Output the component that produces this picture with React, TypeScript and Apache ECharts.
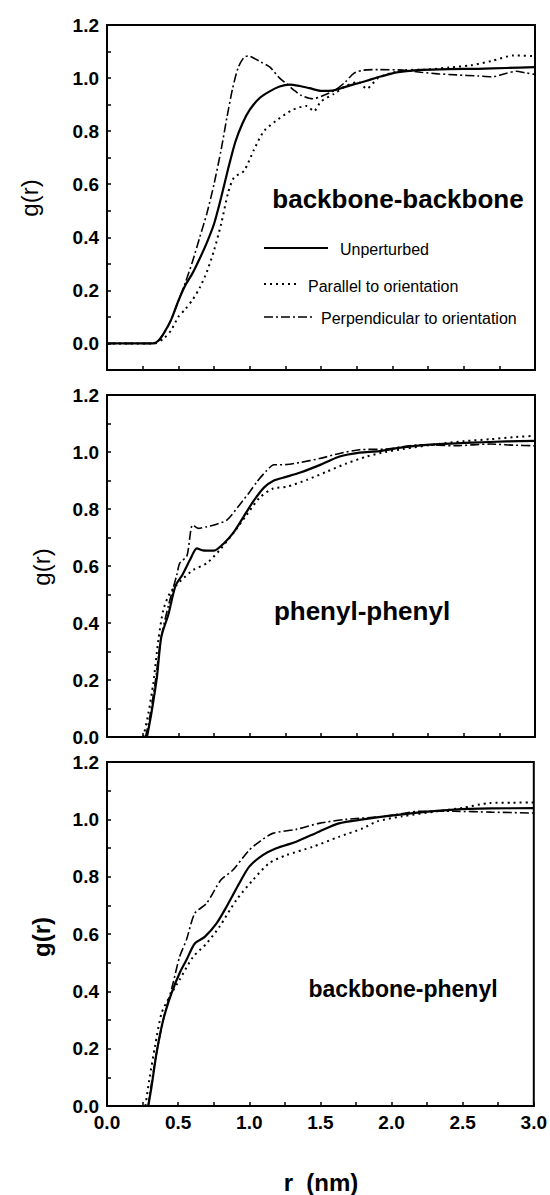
import React, { useEffect, useRef } from 'react';
import * as echarts from 'echarts';

// ---------- data: [r (nm), g(r)] ----------
// Panel 1: backbone-backbone
const bbUnperturbed = [[0,0],[0.32,0],[0.36,0.01],[0.40,0.04],[0.45,0.09],[0.50,0.16],[0.55,0.22],[0.60,0.265],[0.65,0.32],[0.70,0.38],[0.75,0.45],[0.80,0.55],[0.85,0.66],[0.90,0.76],[0.95,0.83],[1.0,0.88],[1.07,0.925],[1.14,0.95],[1.21,0.968],[1.28,0.975],[1.35,0.97],[1.42,0.962],[1.50,0.952],[1.58,0.953],[1.66,0.965],[1.74,0.978],[1.82,0.99],[1.91,1.005],[2.0,1.018],[2.1,1.026],[2.2,1.031],[2.4,1.034],[2.6,1.035],[2.8,1.038],[3.0,1.041]];
const bbParallel = [[0,0],[0.33,0],[0.40,0.02],[0.45,0.05],[0.50,0.1],[0.55,0.13],[0.60,0.165],[0.65,0.21],[0.70,0.27],[0.75,0.35],[0.80,0.45],[0.85,0.57],[0.89,0.625],[0.96,0.65],[1.03,0.73],[1.10,0.80],[1.20,0.845],[1.30,0.88],[1.40,0.895],[1.45,0.875],[1.50,0.912],[1.59,0.94],[1.68,0.972],[1.76,0.985],[1.82,0.96],[1.90,1.0],[2.0,1.02],[2.1,1.03],[2.25,1.032],[2.4,1.04],[2.55,1.048],[2.7,1.065],[2.85,1.085],[3.0,1.083]];
const bbPerpendicular = [[0,0],[0.33,0],[0.40,0.04],[0.45,0.09],[0.50,0.16],[0.55,0.23],[0.60,0.31],[0.65,0.40],[0.70,0.49],[0.75,0.60],[0.80,0.73],[0.84,0.85],[0.88,0.96],[0.92,1.04],[0.96,1.078],[0.99,1.083],[1.03,1.075],[1.08,1.06],[1.14,1.042],[1.21,1.0],[1.26,0.978],[1.31,0.955],[1.36,0.935],[1.44,0.922],[1.52,0.935],[1.60,0.955],[1.67,0.985],[1.73,1.018],[1.8,1.03],[1.9,1.032],[2.07,1.03],[2.2,1.022],[2.32,1.016],[2.45,1.012],[2.6,1.008],[2.7,1.005],[2.8,1.018],[2.87,1.026],[2.93,1.02],[3.0,1.014]];

// Panel 2: phenyl-phenyl
const ppUnperturbed = [[0.28,0],[0.31,0.08],[0.35,0.21],[0.38,0.35],[0.43,0.43],[0.48,0.53],[0.53,0.57],[0.58,0.62],[0.63,0.662],[0.67,0.655],[0.75,0.654],[0.82,0.68],[0.89,0.72],[0.96,0.775],[1.03,0.83],[1.10,0.875],[1.17,0.9],[1.25,0.912],[1.35,0.927],[1.49,0.954],[1.63,0.984],[1.77,0.998],[1.91,1.003],[2.07,1.016],[2.24,1.025],[2.56,1.033],[2.8,1.037],[3.0,1.039]];
const ppParallel = [[0.255,0],[0.29,0.083],[0.325,0.19],[0.36,0.34],[0.395,0.446],[0.44,0.504],[0.51,0.545],[0.605,0.586],[0.70,0.61],[0.79,0.656],[0.885,0.715],[0.98,0.78],[1.07,0.84],[1.165,0.872],[1.26,0.878],[1.40,0.902],[1.54,0.931],[1.68,0.96],[1.82,0.984],[1.95,1.0],[2.07,1.01],[2.32,1.028],[2.5,1.038],[2.69,1.045],[2.85,1.052],[3.0,1.057]];
const ppPerpendicular = [[0.27,0],[0.30,0.07],[0.34,0.20],[0.38,0.35],[0.43,0.46],[0.49,0.57],[0.51,0.61],[0.56,0.635],[0.60,0.744],[0.64,0.732],[0.70,0.738],[0.75,0.744],[0.84,0.761],[0.93,0.815],[1.0,0.86],[1.05,0.895],[1.12,0.935],[1.17,0.955],[1.26,0.956],[1.35,0.963],[1.49,0.977],[1.63,0.995],[1.77,1.008],[1.95,1.01],[2.2,1.025],[2.44,1.022],[2.69,1.028],[2.85,1.024],[3.0,1.022]];

// Panel 3: backbone-phenyl
const bpUnperturbed = [[0.29,0],[0.313,0.067],[0.348,0.184],[0.395,0.30],[0.453,0.393],[0.51,0.463],[0.558,0.509],[0.617,0.567],[0.687,0.59],[0.77,0.637],[0.84,0.695],[0.93,0.777],[1.0,0.835],[1.095,0.875],[1.19,0.899],[1.33,0.922],[1.49,0.957],[1.63,0.986],[1.80,1.0],[1.95,1.01],[2.2,1.024],[2.44,1.034],[2.7,1.038],[3.0,1.039]];
const bpParallel = [[0.27,0],[0.30,0.10],[0.337,0.207],[0.383,0.323],[0.44,0.381],[0.51,0.44],[0.605,0.52],[0.70,0.567],[0.79,0.625],[0.91,0.719],[1.025,0.788],[1.14,0.847],[1.26,0.875],[1.445,0.904],[1.63,0.939],[1.80,0.969],[1.90,0.993],[2.07,1.01],[2.32,1.028],[2.5,1.04],[2.69,1.057],[2.85,1.058],[3.0,1.059]];
const bpPerpendicular = [[0.29,0],[0.31,0.07],[0.35,0.19],[0.40,0.31],[0.46,0.42],[0.51,0.52],[0.558,0.579],[0.617,0.672],[0.70,0.707],[0.80,0.788],[0.885,0.823],[1.0,0.893],[1.08,0.925],[1.165,0.951],[1.33,0.965],[1.49,0.986],[1.68,1.0],[1.95,1.01],[2.2,1.028],[2.44,1.028],[2.7,1.025],[3.0,1.022]];

const panelTitles = ['backbone-backbone', 'phenyl-phenyl', 'backbone-phenyl'];
const legendNames = ['Unperturbed', 'Parallel to orientation', 'Perpendicular to orientation'];
const xAxisTitle = 'r  (nm)';
const yAxisTitle = 'g(r)';

const FONT = '"Liberation Sans", Arial, Helvetica, sans-serif';

export default function App() {
  const ref = useRef<HTMLDivElement>(null);

  useEffect(() => {
    const chart = echarts.init(ref.current!, null, { renderer: 'svg' });

    const grids = [
      { left: 107, top: 25, width: 428, height: 345 },
      { left: 107, top: 395, width: 428, height: 342 },
      { left: 107, top: 762, width: 428, height: 344 },
    ];

    const lineSolid = { color: '#000', width: 2.2, type: 'solid' as const };
    const lineDot = { color: '#000', width: 2, type: [2, 4] };
    const lineDashDot = { color: '#000', width: 1.6, type: [9, 3, 2, 3] };

    const data = [
      [bbUnperturbed, bbParallel, bbPerpendicular],
      [ppUnperturbed, ppParallel, ppPerpendicular],
      [bpUnperturbed, bpParallel, bpPerpendicular],
    ];
    const styles = [lineSolid, lineDot, lineDashDot];

    const axisLineStyle = { show: true, onZero: false, lineStyle: { color: '#000', width: 2 } };

    const xAxes = grids.map((_, i) => ({
      type: 'value',
      gridIndex: i,
      min: 0,
      max: 3,
      interval: 0.5,
      position: 'bottom',
      axisLine: axisLineStyle,
      axisTick: { show: true, inside: true, length: 4, lineStyle: { color: '#000', width: 1.5 } },
      minorTick: { show: true, splitNumber: 2, length: 4, lineStyle: { color: '#000', width: 1.5 } },
      splitLine: { show: false },
      axisLabel: {
        show: i === 2,
        margin: 7,
        color: '#000',
        fontFamily: FONT,
        fontWeight: 'bold',
        fontSize: 19,
        formatter: (v: number) => v.toFixed(1),
      },
    }));

    const yAxes = grids.map((_, i) => ({
      type: 'value',
      gridIndex: i,
      min: i === 0 ? -0.1 : 0,
      max: 1.2,
      interval: i === 0 ? 0.1 : 0.2,
      axisLine: axisLineStyle,
      axisTick: { show: true, inside: true, length: 4, lineStyle: { color: '#000', width: 1.5 } },
      minorTick: { show: i !== 0, splitNumber: 2, length: 4, lineStyle: { color: '#000', width: 1.5 } },
      splitLine: { show: false },
      axisLabel: {
        show: true,
        margin: 8,
        color: '#000',
        fontFamily: FONT,
        fontWeight: 'bold',
        fontSize: 19,
        formatter: (v: number) => {
          const k = Math.round(v * 10);
          if (k < 0 || k % 2 !== 0) return '';
          return (k / 10).toFixed(1);
        },
      },
    }));

    const series: any[] = [];
    data.forEach((panel, i) => {
      panel.forEach((d, j) => {
        series.push({
          type: 'line',
          name: legendNames[j],
          xAxisIndex: i,
          yAxisIndex: i,
          data: d,
          showSymbol: false,
          symbol: 'none',
          smooth: 0.25,
          lineStyle: styles[j],
          z: 3 - j,
        });
      });
    });

    const txt = (text: string, x: number, y: number, size: number, weight: string, align = 'left', extra: any = {}) => ({
      type: 'text',
      x,
      y,
      ...extra,
      style: {
        text,
        fill: '#000',
        fontFamily: FONT,
        fontSize: size,
        fontWeight: weight,
        textAlign: align,
        align,
        textVerticalAlign: 'middle',
        verticalAlign: 'middle',
      },
    });

    const graphic: any[] = [
      // panel titles
      txt(panelTitles[0], 398, 199, 26, 'bold', 'center'),
      txt(panelTitles[1], 362, 611, 26, 'bold', 'center'),
      txt(panelTitles[2], 403, 989, 23, 'bold', 'center'),
      // y-axis titles
      txt(yAxisTitle, 29, 198, 24, 'normal', 'center', { rotation: Math.PI / 2 }),
      txt(yAxisTitle, 41, 567, 24, 'normal', 'center', { rotation: Math.PI / 2 }),
      txt(yAxisTitle, 41, 937, 24, 'bold', 'center', { rotation: Math.PI / 2 }),
      // x-axis title
      txt(xAxisTitle, 321, 1182, 24, 'bold', 'center'),
      // legend
      { type: 'line', shape: { x1: 264, y1: 248, x2: 328, y2: 248 }, style: { stroke: '#000', lineWidth: 2.2 } },
      txt(legendNames[0], 340, 249, 16, 'normal'),
      { type: 'line', shape: { x1: 264, y1: 284, x2: 298, y2: 284 }, style: { stroke: '#000', lineWidth: 2, lineDash: [2, 4] } },
      txt(legendNames[1], 308, 286, 16, 'normal'),
      { type: 'line', shape: { x1: 264, y1: 317, x2: 313, y2: 317 }, style: { stroke: '#000', lineWidth: 1.6, lineDash: [9, 3, 2, 3] } },
      txt(legendNames[2], 321, 318, 16, 'normal'),
    ];

    chart.setOption({
      animation: false,
      backgroundColor: '#fff',
      grid: grids.map((g) => ({ ...g, show: true, borderColor: '#000', borderWidth: 2, containLabel: false })),
      xAxis: xAxes,
      yAxis: yAxes,
      series,
      graphic,
    });

    return () => chart.dispose();
  }, []);

  return <div ref={ref} style={{ position: 'absolute', left: 0, top: 0, width: 550, height: 1195 }} />;
}
